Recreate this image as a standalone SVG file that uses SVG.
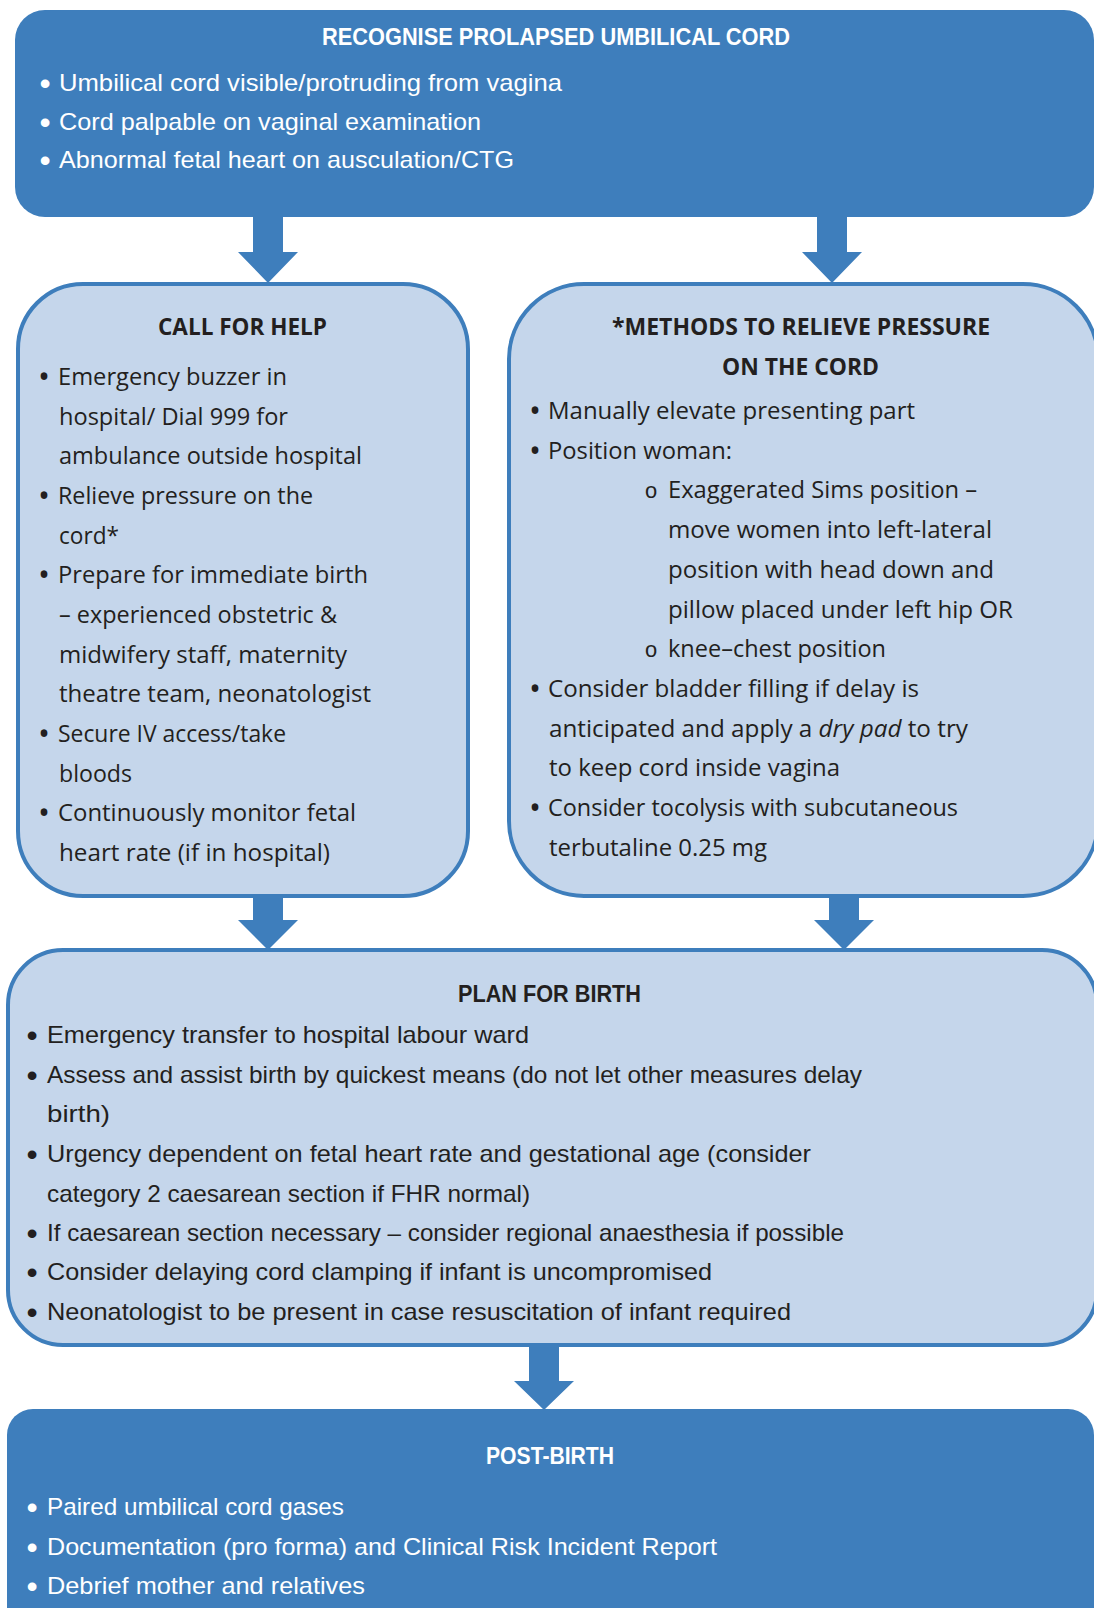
<svg xmlns="http://www.w3.org/2000/svg" width="1094" height="1608" viewBox="0 0 1094 1608">
<style>
.dark{fill:#3e7ebc;}
.light{fill:#c5d6eb;stroke:#3e7ebc;stroke-width:4;}
.arrow{fill:#3e7ebc;}
.cw{font-family:"Liberation Sans Narrow","Liberation Sans","DejaVu Sans Condensed",sans-serif;font-size:24px;fill:#ffffff;}
.cd{font-family:"Liberation Sans Narrow","Liberation Sans","DejaVu Sans Condensed",sans-serif;font-size:24px;fill:#231f20;}
.ct{font-weight:bold;}
.h{font-family:"Open Sans","Noto Sans","DejaVu Sans",sans-serif;font-size:24px;fill:#231f20;}
.hb{font-weight:bold;}
.b{font-size:32px;}
.sub{font-family:"Liberation Mono","DejaVu Sans Mono",monospace;font-size:22px;fill:#231f20;}
</style>
<rect width="1094" height="1608" fill="#ffffff"/>

<g id="connectors">
<path class="arrow" d="M253 215 H283 V252 H298 L268 283 L238 252 H253 Z"/>
<path class="arrow" d="M817 215 H847 V252 H862 L832 283 L802 252 H817 Z"/>
<path class="arrow" d="M253 896 H283 V920 H298 L268 950 L238 920 H253 Z"/>
<path class="arrow" d="M829 896 H859 V920 H874 L844 950 L814 920 H829 Z"/>
<path class="arrow" d="M529 1344 H559 V1381 H574 L544 1410 L514 1381 H529 Z"/>
</g>

<g id="recognise">
<rect class="dark" x="15" y="10" width="1079" height="207" rx="30"/>
<text class="cw ct" x="556" y="45" text-anchor="middle" textLength="468" lengthAdjust="spacingAndGlyphs">RECOGNISE PROLAPSED UMBILICAL CORD</text>
<text class="cw b" x="45" y="94" text-anchor="middle">•</text>
<text class="cw" x="59" y="91" textLength="503" lengthAdjust="spacingAndGlyphs">Umbilical cord visible/protruding from vagina</text>
<text class="cw b" x="45" y="133" text-anchor="middle">•</text>
<text class="cw" x="59" y="130" textLength="422" lengthAdjust="spacingAndGlyphs">Cord palpable on vaginal examination</text>
<text class="cw b" x="45" y="171" text-anchor="middle">•</text>
<text class="cw" x="59" y="168" textLength="455" lengthAdjust="spacingAndGlyphs">Abnormal fetal heart on ausculation/CTG</text>
</g>

<g id="call-for-help">
<rect class="light" x="18" y="284" width="450" height="612" rx="65"/>
<text class="h hb" x="242.5" y="335" text-anchor="middle" textLength="169" lengthAdjust="spacingAndGlyphs">CALL FOR HELP</text>
<text class="h b" x="44" y="388" text-anchor="middle">•</text>
<text class="h" x="58" y="385" textLength="229" lengthAdjust="spacingAndGlyphs">Emergency buzzer in</text>
<text class="h" x="59" y="424.7" textLength="229" lengthAdjust="spacingAndGlyphs">hospital/ Dial 999 for</text>
<text class="h" x="59" y="464.3" textLength="303" lengthAdjust="spacingAndGlyphs">ambulance outside hospital</text>
<text class="h b" x="44" y="507" text-anchor="middle">•</text>
<text class="h" x="58" y="504" textLength="255" lengthAdjust="spacingAndGlyphs">Relieve pressure on the</text>
<text class="h" x="59" y="543.6" textLength="60" lengthAdjust="spacingAndGlyphs">cord*</text>
<text class="h b" x="44" y="586.3" text-anchor="middle">•</text>
<text class="h" x="58" y="583.3" textLength="310" lengthAdjust="spacingAndGlyphs">Prepare for immediate birth</text>
<text class="h" x="59" y="622.9" textLength="278" lengthAdjust="spacingAndGlyphs">– experienced obstetric &amp;</text>
<text class="h" x="59" y="662.6" textLength="288" lengthAdjust="spacingAndGlyphs">midwifery staff, maternity</text>
<text class="h" x="59" y="702.2" textLength="312" lengthAdjust="spacingAndGlyphs">theatre team, neonatologist</text>
<text class="h b" x="44" y="744.9" text-anchor="middle">•</text>
<text class="h" x="58" y="741.9" textLength="228" lengthAdjust="spacingAndGlyphs">Secure IV access/take</text>
<text class="h" x="59" y="781.5" textLength="73" lengthAdjust="spacingAndGlyphs">bloods</text>
<text class="h b" x="44" y="824.2" text-anchor="middle">•</text>
<text class="h" x="58" y="821.2" textLength="298" lengthAdjust="spacingAndGlyphs">Continuously monitor fetal</text>
<text class="h" x="59" y="860.8" textLength="271" lengthAdjust="spacingAndGlyphs">heart rate (if in hospital)</text>
</g>

<g id="methods">
<rect class="light" x="509" y="284" width="589" height="612" rx="75"/>
<text class="h hb" x="801" y="335" text-anchor="middle" textLength="378" lengthAdjust="spacingAndGlyphs">*METHODS TO RELIEVE PRESSURE</text>
<text class="h hb" x="800.5" y="375" text-anchor="middle" textLength="157" lengthAdjust="spacingAndGlyphs">ON THE CORD</text>
<text class="h b" x="535" y="422" text-anchor="middle">•</text>
<text class="h" x="548" y="419" textLength="367" lengthAdjust="spacingAndGlyphs">Manually elevate presenting part</text>
<text class="h b" x="535" y="461.7" text-anchor="middle">•</text>
<text class="h" x="548" y="458.7" textLength="184" lengthAdjust="spacingAndGlyphs">Position woman:</text>
<text class="sub" x="651" y="498.4" text-anchor="middle">o</text>
<text class="h" x="668" y="498.4" textLength="309" lengthAdjust="spacingAndGlyphs">Exaggerated Sims position –</text>
<text class="h" x="668" y="538" textLength="324" lengthAdjust="spacingAndGlyphs">move women into left-lateral</text>
<text class="h" x="668" y="577.8" textLength="326" lengthAdjust="spacingAndGlyphs">position with head down and</text>
<text class="h" x="668" y="617.5" textLength="345" lengthAdjust="spacingAndGlyphs">pillow placed under left hip OR</text>
<text class="sub" x="651" y="657.2" text-anchor="middle">o</text>
<text class="h" x="668" y="657.2" textLength="218" lengthAdjust="spacingAndGlyphs">knee–chest position</text>
<text class="h b" x="535" y="699.9" text-anchor="middle">•</text>
<text class="h" x="548" y="696.9" textLength="371" lengthAdjust="spacingAndGlyphs">Consider bladder filling if delay is</text>
<text class="h" x="549" y="736.6" textLength="419" lengthAdjust="spacingAndGlyphs">anticipated and apply a <tspan font-style="italic">dry pad</tspan> to try</text>
<text class="h" x="549" y="776.3" textLength="291" lengthAdjust="spacingAndGlyphs">to keep cord inside vagina</text>
<text class="h b" x="535" y="819" text-anchor="middle">•</text>
<text class="h" x="548" y="816" textLength="410" lengthAdjust="spacingAndGlyphs">Consider tocolysis with subcutaneous</text>
<text class="h" x="549" y="855.7" textLength="218" lengthAdjust="spacingAndGlyphs">terbutaline 0.25 mg</text>
</g>

<g id="plan-for-birth">
<rect class="light" x="8" y="950" width="1089" height="395" rx="55"/>
<text class="cd ct" x="549.5" y="1002" text-anchor="middle" textLength="183" lengthAdjust="spacingAndGlyphs">PLAN FOR BIRTH</text>
<text class="cd b" x="32" y="1046" text-anchor="middle">•</text>
<text class="cd" x="47" y="1043" textLength="482" lengthAdjust="spacingAndGlyphs">Emergency transfer to hospital labour ward</text>
<text class="cd b" x="32" y="1085.5" text-anchor="middle">•</text>
<text class="cd" x="47" y="1082.5" textLength="815" lengthAdjust="spacingAndGlyphs">Assess and assist birth by quickest means (do not let other measures delay</text>
<text class="cd" x="47" y="1122" textLength="63" lengthAdjust="spacingAndGlyphs">birth)</text>
<text class="cd b" x="32" y="1164.5" text-anchor="middle">•</text>
<text class="cd" x="47" y="1161.5" textLength="764" lengthAdjust="spacingAndGlyphs">Urgency dependent on fetal heart rate and gestational age (consider</text>
<text class="cd" x="47" y="1201.5" textLength="483" lengthAdjust="spacingAndGlyphs">category 2 caesarean section if FHR normal)</text>
<text class="cd b" x="32" y="1244" text-anchor="middle">•</text>
<text class="cd" x="47" y="1241" textLength="797" lengthAdjust="spacingAndGlyphs">If caesarean section necessary – consider regional anaesthesia if possible</text>
<text class="cd b" x="32" y="1283.4" text-anchor="middle">•</text>
<text class="cd" x="47" y="1280.4" textLength="665" lengthAdjust="spacingAndGlyphs">Consider delaying cord clamping if infant is uncompromised</text>
<text class="cd b" x="32" y="1323.4" text-anchor="middle">•</text>
<text class="cd" x="47" y="1320.4" textLength="744" lengthAdjust="spacingAndGlyphs">Neonatologist to be present in case resuscitation of infant required</text>
</g>

<g id="post-birth">
<rect class="dark" x="7" y="1409" width="1087" height="240" rx="26"/>
<text class="cw ct" x="550" y="1464" text-anchor="middle" textLength="128" lengthAdjust="spacingAndGlyphs">POST-BIRTH</text>
<text class="cw b" x="32" y="1518" text-anchor="middle">•</text>
<text class="cw" x="47" y="1515" textLength="297" lengthAdjust="spacingAndGlyphs">Paired umbilical cord gases</text>
<text class="cw b" x="32" y="1557.5" text-anchor="middle">•</text>
<text class="cw" x="47" y="1554.5" textLength="670" lengthAdjust="spacingAndGlyphs">Documentation (pro forma) and Clinical Risk Incident Report</text>
<text class="cw b" x="32" y="1597" text-anchor="middle">•</text>
<text class="cw" x="47" y="1594" textLength="318" lengthAdjust="spacingAndGlyphs">Debrief mother and relatives</text>
</g>
</svg>
